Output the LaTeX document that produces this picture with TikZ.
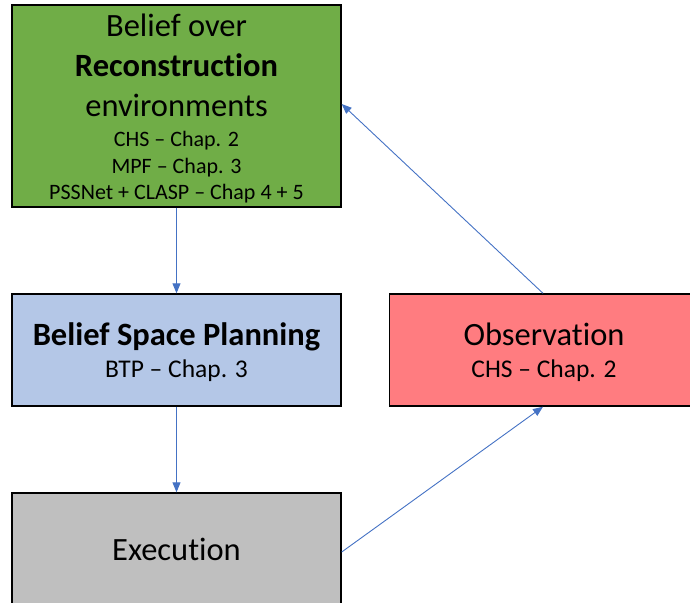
\documentclass[tikz,border=0pt]{standalone}
\usepackage{fontspec}
\setmainfont{Carlito}[Ligatures={NoCommon}]
\usetikzlibrary{arrows.meta}
\definecolor{boxgreen}{HTML}{70AD47}
\definecolor{boxblue}{HTML}{B4C7E7}
\definecolor{boxred}{HTML}{FF7C80}
\definecolor{boxgray}{HTML}{BFBFBF}
\definecolor{flowblue}{HTML}{4472C4}
\tikzset{
  stage/.style={draw=black, line width=1.4pt, rectangle, inner sep=0pt},
  bigtxt/.style={anchor=base, inner sep=0pt, font=\fontsize{32.5}{38}\selectfont},
  smalltxt/.style={anchor=base, inner sep=0pt, font=\fontsize{22}{26}\selectfont},
  subtxt/.style={anchor=base, inner sep=0pt, font=\fontsize{25.5}{30}\selectfont},
  flow/.style={draw=flowblue, line width=0.9pt, -{Triangle[length=10pt,width=8pt]}},
}
\begin{document}
\begin{tikzpicture}[x=1pt,y=-1pt]
  \useasboundingbox (0,0) rectangle (690,602);
  \clip (0,0) rectangle (690,602);
  % stage boxes
  \node[stage, fill=boxgreen, minimum width=329pt, minimum height=202pt] (belief) at (176.5,106) {};
  \node[stage, fill=boxblue, minimum width=329pt, minimum height=112pt] (plan) at (176.5,350) {};
  \node[stage, fill=boxred, minimum width=309pt, minimum height=112pt] (obs) at (544,350) {};
  \node[stage, fill=boxgray, minimum width=329pt, minimum height=114pt] (exec) at (176.5,550) {};
  % belief box text
  \node[bigtxt] (b1) at (176.5,36.7) {Belief over};
  \node[bigtxt] (b2) at (176.5,76.7) {\textbf{Reconstruction}};
  \node[bigtxt] (b3) at (176.5,116.7) {environments};
  \node[smalltxt] (b4) at (176.5,146.7) {CHS – Chap. 2};
  \node[smalltxt] (b5) at (176.5,173.3) {MPF – Chap. 3};
  \node[smalltxt] (b6) at (176.5,199.3) {PSSNet + CLASP – Chap 4 + 5};
  % planning box text
  \node[bigtxt] (p1) at (176.5,345) {\textbf{Belief Space Planning}};
  \node[subtxt] (p2) at (176.5,377) {BTP – Chap. 3};
  % observation box text
  \node[bigtxt] (o1) at (544,345) {Observation};
  \node[subtxt] (o2) at (544,377) {CHS – Chap. 2};
  % execution box text
  \node[bigtxt] (e1) at (176.5,560) {Execution};
  % loop connectors
  \draw[flow] (belief.south) -- (plan.north);
  \draw[flow] (plan.south) -- (exec.north);
  \draw[flow] ([yshift=-2pt]exec.east) -- ([xshift=-1pt]obs.south);
  \draw[flow] ([xshift=-1pt]obs.north) -- ([yshift=2pt]belief.east);
\end{tikzpicture}
\end{document}
